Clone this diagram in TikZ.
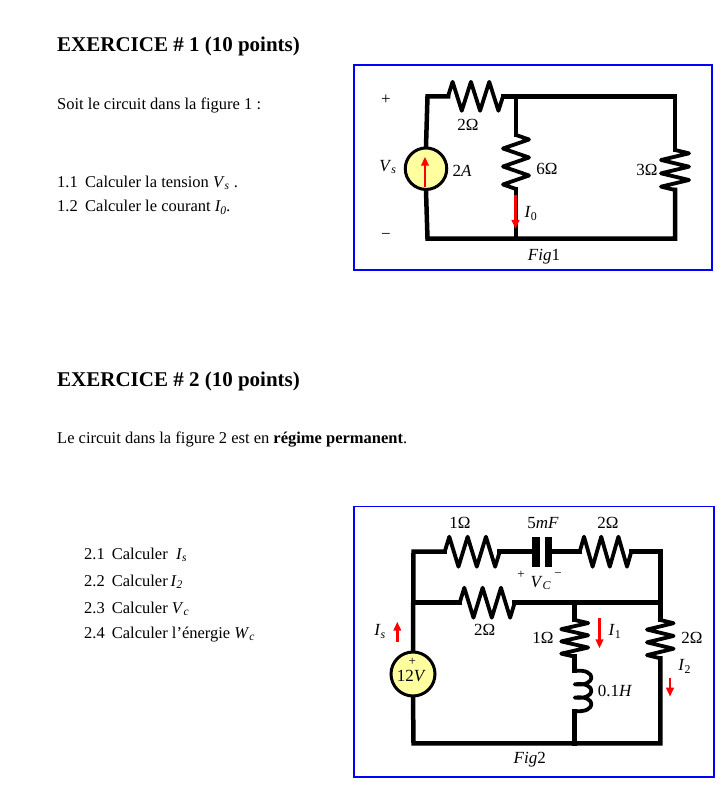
\documentclass[tikz,border=0pt]{standalone}
\usepackage{fontspec}
\setmainfont{Liberation Serif}
\usetikzlibrary{arrows.meta}
\definecolor{srcyellow}{RGB}{255,255,160}
\definecolor{boxblue}{RGB}{0,0,255}
\newcommand\vsb[2]{\textit{#1}\textsubscript{\textit{#2}}}
\tikzset{
 wire/.style={line width=4.5pt, line join=miter, line cap=rect},
 res/.style={line width=3.8pt, line join=round, line cap=butt},
 srcnode/.style={circle, draw, line width=3pt, fill=srcyellow, minimum size=#1, inner sep=0pt},
 curr/.style={red, line width=2.4pt, -{Triangle[length=9pt,width=7.5pt]}},
 figbox/.style={draw=boxblue, line width=1.2pt},
 head/.style={font=\fontsize{21}{25}\selectfont\bfseries, anchor=base west, inner sep=0pt},
 body/.style={font=\fontsize{16.5}{20}\selectfont, anchor=base west, inner sep=0pt},
 lab/.style={font=\fontsize{17}{17}\selectfont, inner sep=0pt},
 smalllab/.style={font=\fontsize{13}{13}\selectfont, inner sep=0pt},
 pics/hzz/.style args={#1/#2}{code={\draw[res] (0,0) -- (#1/12,-#2) -- (#1/4,#2) -- (5*#1/12,-#2) -- (7*#1/12,#2) -- (3*#1/4,-#2) -- (11*#1/12,#2) -- (#1,0);}},
 pics/vzz/.style args={#1/#2}{code={\draw[res] (0,0) -- (#2,#1/12) -- (-#2,#1/4) -- (#2,5*#1/12) -- (-#2,7*#1/12) -- (#2,3*#1/4) -- (-#2,11*#1/12) -- (0,#1);}},
}
\begin{document}
\begin{tikzpicture}[x=1pt,y=-1pt]
\useasboundingbox (0,0) rectangle (725,786);
% ---------------- text ----------------
\node[head] (h1) at (57,51.5) {EXERCICE \# 1 (10 points)};
\node[body] (t1) at (57,110) {Soit le circuit dans la figure 1 :};
\node[body] (q11n) at (57,187.3) {1.1};
\node[body] (q11) at (85,187.3) {Calculer la tension \vsb{V}{s} .};
\node[body] (q12n) at (57,211.7) {1.2};
\node[body] (q12) at (85,211.7) {Calculer le courant \textit{I\textsubscript{0}.}};
\node[head] (h2) at (57,386) {EXERCICE \# 2 (10 points)};
\node[body] (t2) at (57,443.3) {Le circuit dans la figure 2 est en \textbf{régime permanent}.};
\node[body] (q21n) at (84,559) {2.1};
\node[body] (q21) at (111.7,559) {Calculer \ \vsb{I}{s}};
\node[body] (q22n) at (84,586) {2.2};
\node[body] (q22) at (111.7,586) {Calculer\,\vsb{I}{2}};
\node[body] (q23n) at (84,613) {2.3};
\node[body] (q23) at (111.7,613) {Calculer \vsb{V}{c}};
\node[body] (q24n) at (84,638) {2.4};
\node[body] (q24) at (111.7,638) {Calculer l’énergie \vsb{W}{c}};
% ---------------- Fig 1 ----------------
\draw[figbox] (354,65) rectangle (712,270);
\coordinate (a1) at (427.5,96.3);
\coordinate (r1s) at (448,96.3);
\coordinate (r1e) at (503,96.3);
\coordinate (m1) at (516,96.3);
\coordinate (t1r) at (675,96.3);
\coordinate (r3s) at (675,150);
\coordinate (r3e) at (675,190);
\coordinate (b1r) at (675,238.7);
\coordinate (b1m) at (516,238.7);
\coordinate (b1l) at (427.5,238.7);
\coordinate (r6s) at (516,135);
\coordinate (r6e) at (516,189);
\node[srcnode=41.5pt] (s1) at (426,168.7) {};
\draw[wire] (s1.north) -- (a1) -- (r1s);
\draw[wire] (r1e) -- (t1r) -- (r3s);
\draw[wire] (r3e) -- (b1r) -- (b1l) -- (s1.south);
\draw[wire] (m1) -- (r6s);
\draw[wire] (r6e) -- (b1m);
\pic at (r1s) {hzz=55/14.5};
\pic at (r3s) {vzz=40/14};
\pic at (r6s) {vzz=54/13};
\coordinate (s1t) at (425,156.7);
\coordinate (s1b) at (425,186.7);
\draw[curr] (s1b) -- (s1t);
\coordinate (i0a) at (515.5,195);
\coordinate (i0b) at (515.5,229);
\draw[curr] (i0a) -- (i0b);
\node[lab] (plus1) at (386,100) {+};
\node[lab] (minus1) at (386,236) {−};
\node[lab] (vs1) at (388,167) {\vsb{V}{s}};
\node[lab] (src1) at (462,171) {2\textit{A}};
\node[lab] (l2) at (468,125) {2Ω};
\node[lab] (l6) at (547,169) {6Ω};
\node[lab] (l3) at (647,170) {3Ω};
\node[lab] (li0) at (531,213.7) {\textit{I}\textsubscript{0}};
\node[lab] (f1) at (544,257) {\textit{Fig}1};
% ---------------- Fig 2 ----------------
\draw[figbox] (354,506.5) rectangle (714,777);
\coordinate (tl) at (413.5,551.7);
\coordinate (ml) at (413.5,602.7);
\coordinate (bl) at (413.5,743.3);
\coordinate (tr) at (660.3,551.7);
\coordinate (mr) at (660.3,602.7);
\coordinate (br) at (660.3,743.3);
\coordinate (mm) at (574.7,602.7);
\coordinate (bm) at (574.7,743.3);
\coordinate (ra) at (444.7,551.7);
\coordinate (rae) at (499.7,551.7);
\coordinate (ca) at (532.3,551.7);
\coordinate (cb) at (552,551.7);
\coordinate (rb) at (579.7,551.7);
\coordinate (rbe) at (631.3,551.7);
\coordinate (rc) at (459.7,602.7);
\coordinate (rce) at (514.7,602.7);
\coordinate (rd) at (574.7,620);
\coordinate (rde) at (574.7,656.7);
\coordinate (la) at (574.7,671);
\coordinate (lb) at (574.7,711);
\coordinate (re) at (660.3,620);
\coordinate (ree) at (660.3,658.3);
\node[srcnode=44pt] (s2) at (413,674) {};
\draw[wire] (s2.north) -- (tl) -- (ra);
\draw[wire] (rae) -- (ca);
\draw[wire] (cb) -- (rb);
\draw[wire] (rbe) -- (tr) -- (re);
\draw[wire] (ml) -- (rc);
\draw[wire] (rce) -- (mr);
\draw[wire] (mm) -- (rd);
\draw[wire] (rde) -- (la);
\draw[wire] (lb) -- (bm);
\draw[wire] (ree) -- (br) -- (bl) -- (s2.south);
\fill (532.3,536.7) rectangle (539.7,566.7);
\fill (544.7,536.7) rectangle (552,566.7);
\pic at (ra) {hzz=55/15};
\pic at (rb) {hzz=51.6/15};
\pic at (rc) {hzz=55/15};
\pic at (rd) {vzz=36.7/13.5};
\pic at (re) {vzz=38.3/13.3};
\draw[res] (la) .. controls (597,668) and (597,687) .. (574.7,684.3)
  .. controls (597,681.3) and (597,700.3) .. (574.7,697.6)
  .. controls (597,694.6) and (597,713.6) .. (lb);
\coordinate (isa) at (397.3,641.7);
\coordinate (isb) at (397.3,621.7);
\draw[curr] (isa) -- (isb);
\coordinate (i1a) at (599.5,618.3);
\coordinate (i1b) at (599.5,648.3);
\draw[curr] (i1a) -- (i1b);
\coordinate (i2a) at (670,678.3);
\coordinate (i2b) at (670,696.7);
\draw[curr] (i2a) -- (i2b);
\node[lab] (l1a) at (460,523) {1Ω};
\node[lab] (lc) at (543,523) {5\textit{mF}};
\node[lab] (l2a) at (608,523) {2Ω};
\node[smalllab] (vcp) at (521,575) {+};
\node[lab] (vc) at (541,583) {\vsb{V}{C}};
\node[smalllab] (vcm) at (558,575) {−};
\node[lab] (l2b) at (484.7,630) {2Ω};
\node[lab] (l1b) at (543,638) {1Ω};
\node[lab] (li1) at (615,631.7) {\textit{I}\textsubscript{1}};
\node[lab] (l2c) at (692,638) {2Ω};
\node[lab] (li2) at (684.7,666.7) {\textit{I}\textsubscript{2}};
\node[lab] (lh) at (615,690.7) {0.1\textit{H}};
\node[lab] (lis) at (380,631.7) {\vsb{I}{s}};
\node[smalllab] (s2p) at (412.3,661.5) {+};
\node[lab] (s2v) at (411.3,676) {12\textit{V}};
\node[lab] (f2) at (529.7,760) {\textit{Fig}2};
\end{tikzpicture}
\end{document}
